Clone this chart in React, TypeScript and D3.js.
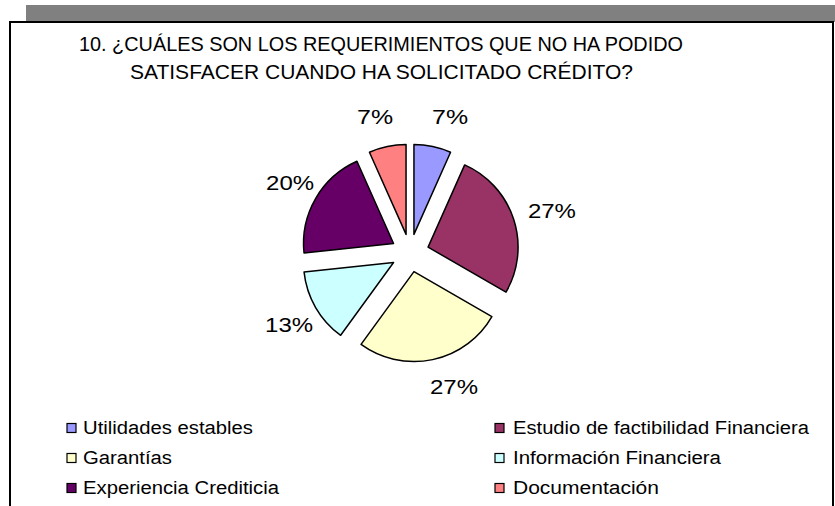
import React from "react";
import * as d3 from "d3";

const titleLines = [
  "10. ¿CUÁLES SON LOS REQUERIMIENTOS QUE NO HA PODIDO",
  "SATISFACER CUANDO HA SOLICITADO CRÉDITO?",
];
const categories = [
  "Utilidades estables",
  "Estudio de factibilidad Financiera",
  "Garantías",
  "Información Financiera",
  "Experiencia Crediticia",
  "Documentación",
];
const values = [1, 4, 4, 2, 3, 1];
const colors = ["#9999FF", "#993366", "#FFFFCC", "#CCFFFF", "#660066", "#FF8080"];

// layout (label placement, polar around the pie centre)
const labelAngle = [16.4, 73.5, 161.8, 239.2, 300.3, 345.6];
const labelRadius = [141.8, 148, 141, 140.8, 138.9, 140.4];
// legend order (rows, columns)
const legendOrder = [0, 1, 2, 3, 4, 5];
const legendWidths = [170, 296, 89, 208, 196, 146];

const W = 835;
const H = 506;
const cx = 410;
const cy = 253;
const R = 90;
const EXPLODE = 19;

export default function App() {
  const total = d3.sum(values);
  const pie = d3.pie<number>().sort(null).value((d) => d);
  const arcs = pie(values);
  const arc = d3.arc<d3.PieArcDatum<number>>().innerRadius(0).outerRadius(R);
  const pct = values.map((v) => `${Math.round((v / total) * 100)}%`);

  return (
    <svg
      width={W}
      height={H}
      style={{ position: "absolute", left: 0, top: 0, background: "#fff" }}
      fontFamily="'Liberation Sans', Arial, sans-serif"
    >
      <rect x={26} y={5} width={W - 26} height={17} fill="#808080" />
      <rect x={10} y={22} width={823} height={H} fill="#fff" stroke="#000" strokeWidth={2} />

      <text x={79} y={51} fontSize={21} textLength={604} lengthAdjust="spacingAndGlyphs" fill="#000">
        {titleLines[0]}
      </text>
      <text x={130} y={79} fontSize={21} textLength={503} lengthAdjust="spacingAndGlyphs" fill="#000">
        {titleLines[1]}
      </text>

      <g transform={`translate(${cx},${cy})`}>
        {arcs.map((a, i) => {
          const mid = (a.startAngle + a.endAngle) / 2;
          const dx = EXPLODE * Math.sin(mid);
          const dy = -EXPLODE * Math.cos(mid);
          return (
            <path
              key={i}
              d={arc(a) || ""}
              transform={`translate(${dx},${dy})`}
              fill={colors[i]}
              stroke="#000"
              strokeWidth={1.5}
              strokeLinejoin="round"
            />
          );
        })}
        {arcs.map((a, i) => {
          const ang = (labelAngle[i] * Math.PI) / 180;
          const x = labelRadius[i] * Math.sin(ang);
          const y = -labelRadius[i] * Math.cos(ang);
          return (
            <text
              key={i}
              x={x}
              y={y}
              dy="0.36em"
              textAnchor="middle"
              fontSize={20}
              textLength={pct[i].length === 2 ? 36 : 48}
              lengthAdjust="spacingAndGlyphs"
              fill="#000"
            >
              {pct[i]}
            </text>
          );
        })}
      </g>

      {legendOrder.map((idx, k) => {
        const col = k % 2;
        const row = Math.floor(k / 2);
        const y = 428 + row * 30;
        const sx = col === 0 ? 67 : 495;
        const tx = col === 0 ? 83 : 513;
        return (
          <g key={idx}>
            <rect x={sx} y={y - 4.5} width={9} height={9} fill={colors[idx]} stroke="#000" strokeWidth={1.2} />
            <text
              x={tx}
              y={y}
              dy="0.36em"
              fontSize={18}
              textLength={legendWidths[idx]}
              lengthAdjust="spacingAndGlyphs"
              fill="#000"
            >
              {categories[idx]}
            </text>
          </g>
        );
      })}
    </svg>
  );
}
